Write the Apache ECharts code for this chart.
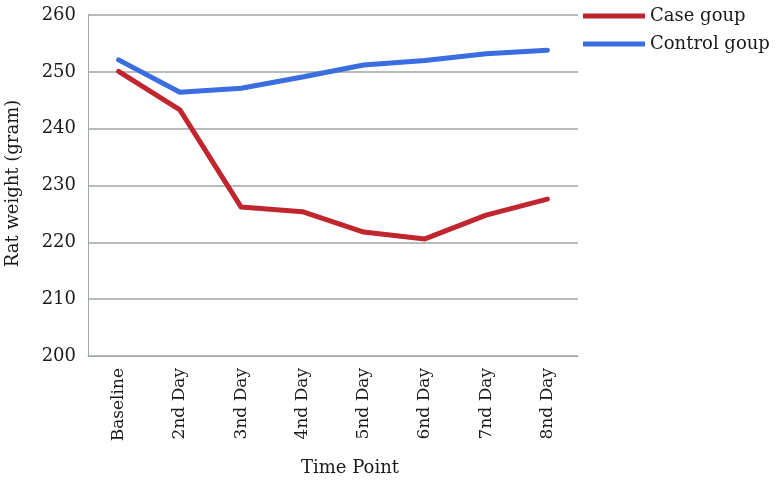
<!DOCTYPE html>
<html>
<head>
<meta charset="utf-8">
<script src="https://cdn.jsdelivr.net/npm/echarts@6/dist/echarts.min.js"></script>
<style>
  html, body { margin: 0; padding: 0; background: #fff; }
  #chart { width: 780px; height: 490px; }
</style>
</head>
<body>
<div id="chart"></div>
<script>
// 数据
const categories = ['Baseline', '2nd Day', '3nd Day', '4nd Day', '5nd Day', '6nd Day', '7nd Day', '8nd Day'];
const caseValues = [250.1, 243.3, 226.2, 225.4, 221.8, 220.6, 224.8, 227.6];
const controlValues = [252.1, 246.4, 247.1, 249.1, 251.2, 252.0, 253.2, 253.8];
const yTicks = [200, 210, 220, 230, 240, 250, 260];

const font = '"DejaVu Serif", "Liberation Serif", serif';
const gridColor = '#9ea6a6';
const textColor = '#1a1a1a';

const chart = echarts.init(document.getElementById('chart'));

chart.setOption({
  animation: false,
  textStyle: { fontFamily: font },
  legend: {
    orient: 'vertical',
    left: 578,
    top: 2,
    itemWidth: 62,
    itemHeight: 5,
    itemGap: 10,
    icon: 'rect',
    textStyle: { fontFamily: font, fontSize: 18, color: textColor },
    data: ['Case goup', 'Control goup']
  },
  grid: {
    left: 88,
    right: 202,
    top: 15,
    bottom: 134,
    outerBoundsMode: 'none'
  },
  xAxis: {
    type: 'category',
    data: categories,
    boundaryGap: true,
    name: 'Time Point',
    nameLocation: 'middle',
    nameGap: 103,
    nameTextStyle: { fontFamily: font, fontSize: 18, color: textColor, padding: [0, 0, 0, 34] },
    axisLine: { show: true, lineStyle: { color: gridColor, width: 1 } },
    axisTick: { show: false },
    axisLabel: {
      rotate: 90,
      fontFamily: font,
      fontSize: 17,
      color: textColor,
      margin: 12
    }
  },
  yAxis: {
    type: 'value',
    min: yTicks[0],
    max: yTicks[yTicks.length - 1],
    interval: 10,
    name: 'Rat weight (gram)',
    nameLocation: 'middle',
    nameGap: 66,
    nameTextStyle: { fontFamily: font, fontSize: 18, color: textColor, padding: [0, 0, 0, 4] },
    axisLine: { show: true, lineStyle: { color: gridColor, width: 1 } },
    axisTick: { show: false },
    axisLabel: { fontFamily: font, fontSize: 18, color: textColor, margin: 12 },
    splitLine: { lineStyle: { color: gridColor, width: 1.5 } }
  },
  series: [
    {
      name: 'Case goup',
      type: 'line',
      data: caseValues,
      symbol: 'none',
      color: '#c1262f',
      lineStyle: { width: 5, color: '#c1262f', cap: 'round', join: 'round' }
    },
    {
      name: 'Control goup',
      type: 'line',
      data: controlValues,
      symbol: 'none',
      color: '#3a6ee0',
      lineStyle: { width: 5, color: '#3a6ee0', cap: 'round', join: 'round' }
    }
  ]
});
</script>
</body>
</html>
